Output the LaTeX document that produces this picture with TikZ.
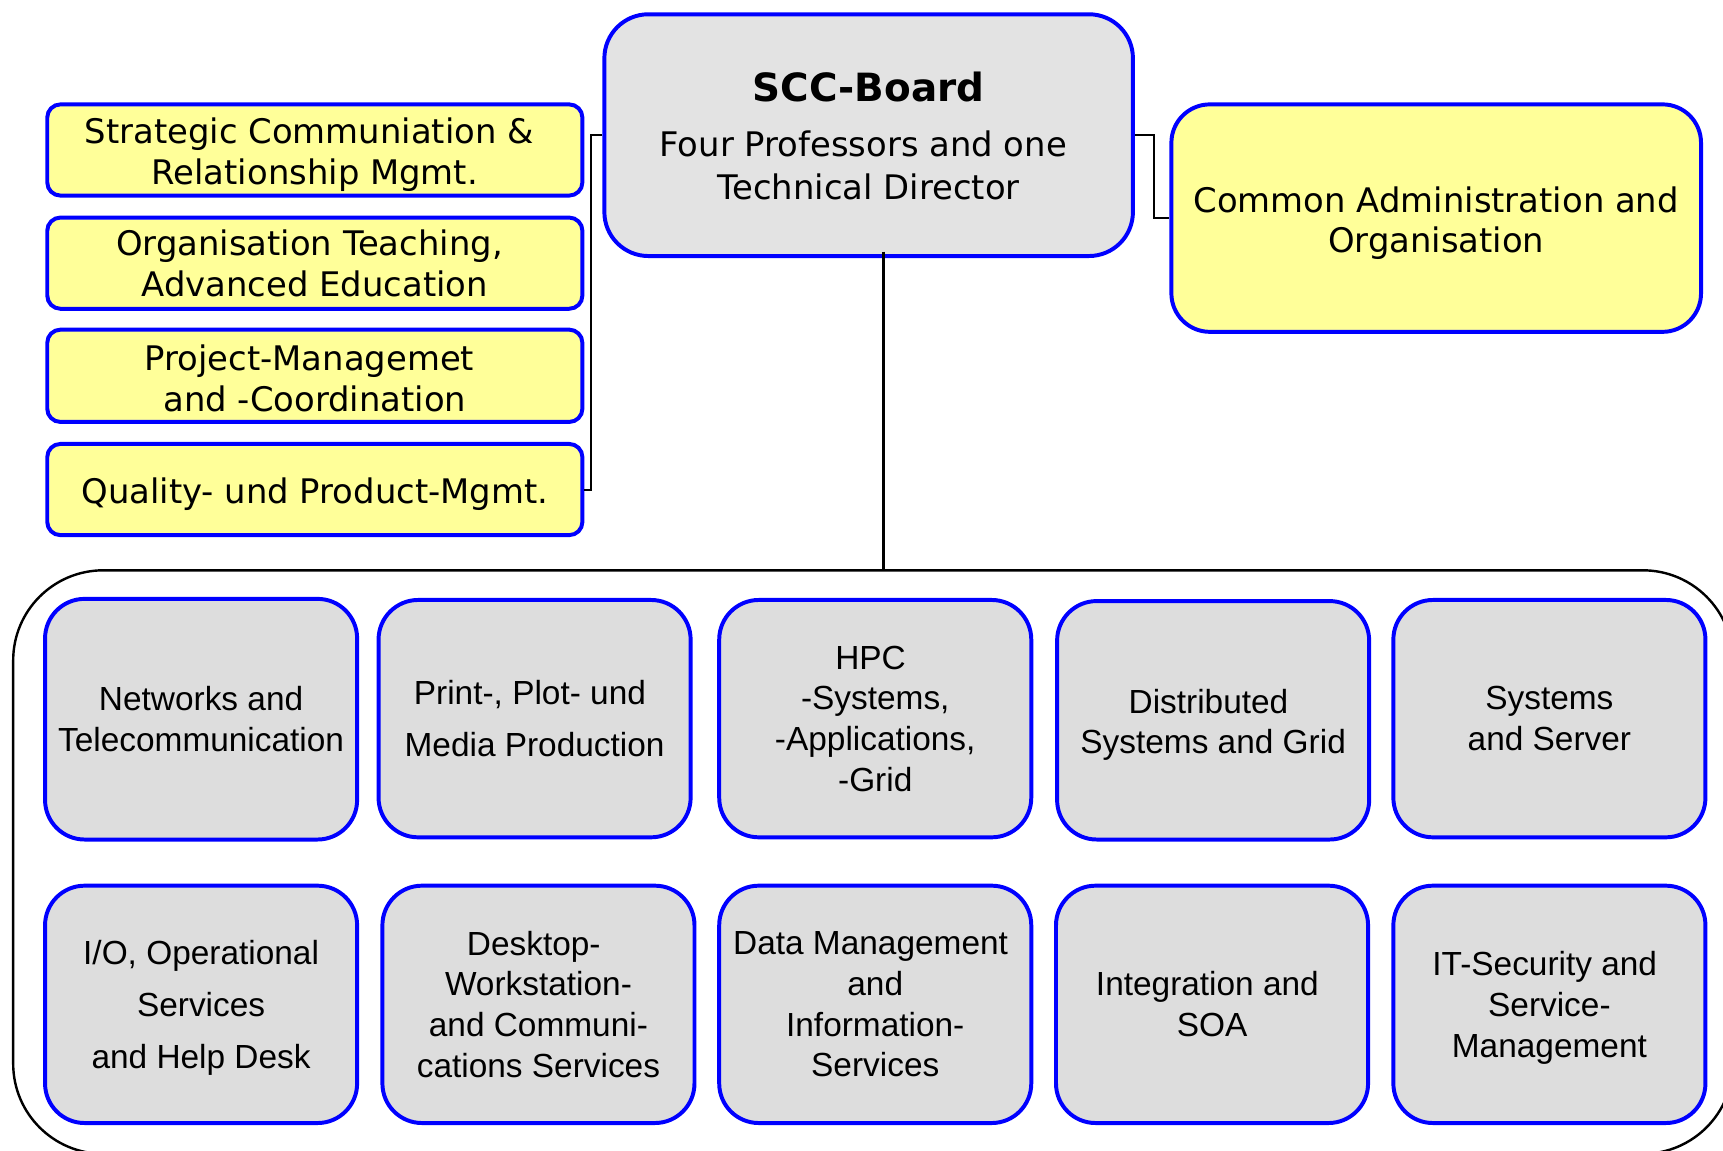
\documentclass[tikz,border=0pt]{standalone}
\usepackage{fontspec}
\setmainfont{DejaVu Sans}
\newfontfamily\arialf{Liberation Sans}
\definecolor{bblue}{RGB}{0,0,255}
\definecolor{yfill}{RGB}{255,255,153}
\definecolor{gfill}{RGB}{227,227,227}
\definecolor{ufill}{RGB}{221,221,221}
\newcommand\vstrutx[1]{\rule{0pt}{#1}}
\newcommand\tsp{~\mbox{}}
\tikzset{
  ybox/.style={draw=bblue, line width=1.8pt, fill=yfill, rounded corners=6pt, align=center,
    font=\fontsize{15.4}{18.5}\selectfont, inner sep=0pt},
  board/.style={draw=bblue, line width=1.8pt, fill=gfill, rounded corners=20pt, align=center,
    font=\fontsize{15.4}{19.5}\selectfont, inner sep=0pt},
  admin/.style={draw=bblue, line width=1.8pt, fill=yfill, rounded corners=17.5pt, align=center,
    font=\fontsize{15.4}{18.5}\selectfont, inner sep=0pt, minimum width=241pt, minimum height=103.5pt},
  unit/.style={draw=bblue, line width=1.8pt, fill=ufill, rounded corners=18pt, align=center,
    font=\arialf\fontsize{15.2}{18.5}\selectfont, inner sep=0pt, minimum width=142pt, minimum height=108pt},
  container/.style={draw=black, line width=1.1pt, fill=white, rounded corners=41pt,
    minimum width=782.5pt, minimum height=265.5pt, inner sep=0pt},
  conn/.style={draw=black, line width=0.9pt},
  trunk/.style={draw=black, line width=1.3pt}
}
\begin{document}
\begin{tikzpicture}[x=0.5pt,y=-0.5pt]
\useasboundingbox (0,0) rectangle (1568,1047);
\clip (0,0) rectangle (1568,1047);
% container
\node[container] (grp) at (794.5,784.5) {};
% board
\node[board, minimum width=240.5pt, minimum height=110pt] (scc) at (790.5,123)
  {\vstrutx{14.5pt}{\fontsize{17.7}{20}\selectfont\bfseries SCC-Board}\\[5.5pt]Four Professors and one\tsp\\Technical Director};
% left staff boxes
\node[ybox, minimum width=243.5pt, minimum height=41.5pt] (s1) at (286.5,136.5) {\vstrutx{15.7pt}Strategic Communiation \&\tsp\\Relationship Mgmt.};
\node[ybox, minimum width=243.5pt, minimum height=41.5pt] (s2) at (286.5,239.5) {Organisation Teaching,\tsp\\Advanced Education};
\node[ybox, minimum width=243.5pt, minimum height=42pt] (s3) at (286.5,342) {\vstrutx{14.2pt}Project-Managemet\tsp\\and -Coordination};
\node[ybox, minimum width=243.5pt, minimum height=41.5pt] (s4) at (286.5,445.5) {\vstrutx{15.7pt}Quality- und Product-Mgmt.};
% right admin
\node[admin] (cm) at (1307,198.5) {\vstrutx{16.2pt}Common Administration and\\Organisation};
% units row 1
\node[unit, minimum height=109.5pt] (u1) at (183,654.5) {Networks and\\Telecommunication};
\node[unit] (u2) at (486.5,654) {Print-, Plot- und\tsp\\[5pt]Media Production};
\node[unit] (u3) at (796.5,654) {HPC\tsp\\-Systems,\\-Applications,\\-Grid};
\node[unit, minimum height=108.5pt] (u4) at (1104,655.5) {\vstrutx{15.1pt}Distributed\tsp\\Systems and Grid};
\node[unit] (u5) at (1410,654) {Systems\\and Server};
% units row 2
\node[unit] (v1) at (183,914) {\vstrutx{14.1pt}I/O, Operational\\[5pt]Services\\[5pt]and Help Desk};
\node[unit] (v2) at (490,914) {Desktop-\tsp\\Workstation-\\and Communi-\\cations Services};
\node[unit] (v3) at (796.5,914) {Data Management\tsp\\and\\Information-\\Services};
\node[unit] (v4) at (1103,914) {Integration and\tsp\\SOA};
\node[unit] (v5) at (1410,914) {\vstrutx{14.1pt}IT-Security and\tsp\\Service-\\Management};
% connectors
\draw[conn] (scc.west) -- ++(-10,0) |- (s4.east);
\draw[conn] (scc.east) -- ++(17,0) |- (cm.west);
\coordinate (vl) at (804,229);
\draw[trunk] (vl) -- (vl |- grp.north);
\end{tikzpicture}
\end{document}
